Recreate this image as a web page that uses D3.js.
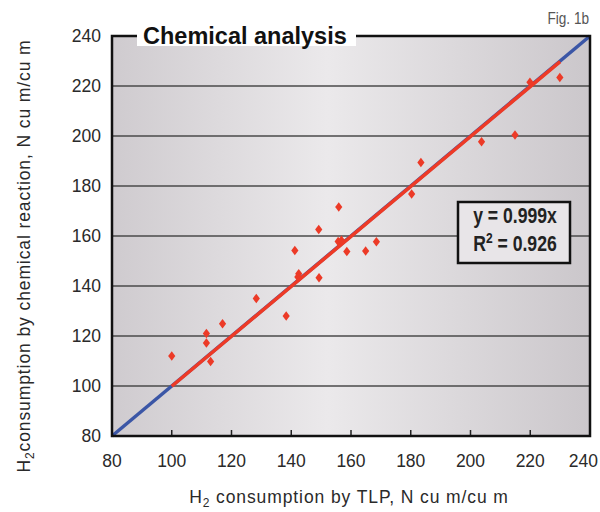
<!DOCTYPE html>
<html>
<head>
<meta charset="utf-8">
<script src="https://cdn.jsdelivr.net/npm/d3@7"></script>
<style>
  body { margin: 0; background: #fff; }
  text { font-family: 'Liberation Sans', Arial, sans-serif; }
</style>
</head>
<body>
<div id="canvas"></div>
<script>
(function () {
  // H2 consumption by TLP (x) vs by chemical reaction (y)
  var tlp = [100, 111.6, 111.6, 113, 117, 128.3, 138.3, 141.2, 142.5, 142.2, 149.2, 149.3,
    155.9, 155.7, 156.8, 158.6, 164.9, 168.5, 180.3, 183.4, 203.7, 214.9, 219.9, 229.9]
  var chem = [112, 121, 117.2, 109.8, 124.9, 135, 128, 154.2, 144.9, 143.6, 162.6, 143.3,
    171.6, 157.8, 158.3, 153.8, 154, 157.7, 176.8, 189.4, 197.7, 200.4, 221.5, 223.4]
  var ticks = [80, 100, 120, 140, 160, 180, 200, 220, 240]
  var slope = 0.999
  var fitRange = [100, 230]
  var parityRange = [80, 240]

  var width = 600,
    height = 512,
    left = 112,
    right = 590,
    top = 36,
    bottom = 436

  var x = d3.scaleLinear().domain([80, 240]).range([left, right])
  var y = d3.scaleLinear().domain([80, 240]).range([bottom, top])

  var svg = d3.select('#canvas').append('svg')
    .attr('width', width)
    .attr('height', height)

  var grad = svg.append('defs').append('linearGradient')
    .attr('id', 'bg')
    .attr('x1', '0%').attr('x2', '100%').attr('y1', '0%').attr('y2', '0%')
  grad.append('stop').attr('offset', '0%').attr('stop-color', '#cfcbcf')
  grad.append('stop').attr('offset', '45%').attr('stop-color', '#ebe9eb')
  grad.append('stop').attr('offset', '100%').attr('stop-color', '#cbc7cb')

  svg.append('rect')
    .attr('x', left).attr('y', top)
    .attr('width', right - left).attr('height', bottom - top)
    .attr('fill', 'url(#bg)')

  // horizontal grid lines
  svg.append('g').selectAll('line')
    .data(ticks.slice(1, -1))
    .enter().append('line')
    .attr('x1', left).attr('x2', right)
    .attr('y1', function (d) { return y(d) })
    .attr('y2', function (d) { return y(d) })
    .attr('stroke', '#4a4a4a')
    .attr('stroke-width', 1.6)

  // bottom ticks, pointing into the plot
  svg.append('g').selectAll('line')
    .data(ticks.slice(1, -1))
    .enter().append('line')
    .attr('x1', function (d) { return x(d) })
    .attr('x2', function (d) { return x(d) })
    .attr('y1', bottom).attr('y2', bottom - 6)
    .attr('stroke', '#222')
    .attr('stroke-width', 1.5)

  // parity line y = x (blue) under the fitted line (red)
  var line = d3.line()
    .x(function (d) { return x(d[0]) })
    .y(function (d) { return y(d[1]) })

  svg.append('path')
    .datum(parityRange.map(function (v) { return [v, v] }))
    .attr('d', line)
    .attr('stroke', '#3b56a6')
    .attr('stroke-width', 3.5)
    .attr('fill', 'none')

  svg.append('path')
    .datum(fitRange.map(function (v) { return [v, v * slope] }))
    .attr('d', line)
    .attr('stroke', '#ee3a26')
    .attr('stroke-width', 3.5)
    .attr('fill', 'none')

  var points = tlp.map(function (v, i) { return {tlp: v, chem: chem[i]} })
  svg.append('g').selectAll('path')
    .data(points)
    .enter().append('path')
    .attr('d', 'M0,-4.8L3.6,0L0,4.8L-3.6,0Z')
    .attr('transform', function (d) { return 'translate(' + x(d.tlp) + ',' + y(d.chem) + ')' })
    .attr('fill', '#ec3a27')

  // frame
  svg.append('rect')
    .attr('x', left).attr('y', top)
    .attr('width', right - left).attr('height', bottom - top)
    .attr('fill', 'none')
    .attr('stroke', '#111')
    .attr('stroke-width', 2.5)

  // title sits on the top border
  svg.append('rect')
    .attr('x', 137).attr('y', 22)
    .attr('width', 219).attr('height', 24)
    .attr('fill', '#fff')
  svg.append('text')
    .attr('x', 143).attr('y', 44)
    .attr('font-size', 23.5)
    .attr('font-weight', 'bold')
    .attr('fill', '#111')
    .text('Chemical analysis')

  svg.append('text')
    .attr('transform', 'translate(589,24) scale(0.85,1)')
    .attr('text-anchor', 'end')
    .attr('font-size', 16)
    .attr('fill', '#555')
    .text('Fig. 1b')

  // tick labels
  svg.append('g').selectAll('text')
    .data(ticks)
    .enter().append('text')
    .attr('x', 101)
    .attr('y', function (d) { return y(d) + 6 })
    .attr('text-anchor', 'end')
    .attr('font-size', 17.5)
    .attr('fill', '#2a2a2a')
    .text(function (d) { return d })

  svg.append('g').selectAll('text')
    .data(ticks)
    .enter().append('text')
    .attr('x', function (d, i) { return i === ticks.length - 1 ? 598 : x(d) })
    .attr('y', 467)
    .attr('text-anchor', function (d, i) { return i === ticks.length - 1 ? 'end' : 'middle' })
    .attr('font-size', 17.5)
    .attr('fill', '#2a2a2a')
    .text(function (d) { return d })

  // axis titles
  var xt = svg.append('text')
    .attr('x', 349).attr('y', 503)
    .attr('text-anchor', 'middle')
    .attr('font-size', 17.5)
    .attr('letter-spacing', 0.9)
    .attr('fill', '#2a2a2a')
  xt.append('tspan').text('H')
  xt.append('tspan').attr('font-size', 12).attr('dy', 4).text('2')
  xt.append('tspan').attr('dy', -4).text(' consumption by TLP, N cu m/cu m')

  var yt = svg.append('text')
    .attr('transform', 'translate(30,256) rotate(-90)')
    .attr('text-anchor', 'middle')
    .attr('font-size', 17.5)
    .attr('letter-spacing', 0.9)
    .attr('fill', '#2a2a2a')
  yt.append('tspan').text('H')
  yt.append('tspan').attr('font-size', 12).attr('dy', 4).text('2')
  yt.append('tspan').attr('dy', -4).text('consumption by chemical reaction, N cu m/cu m')

  // regression box
  svg.append('rect')
    .attr('x', 458).attr('y', 202)
    .attr('width', 112).attr('height', 61)
    .attr('fill', '#e8e5e8')
    .attr('stroke', '#111')
    .attr('stroke-width', 2.5)

  var eq = svg.append('g')
    .attr('font-weight', 'bold')
    .attr('font-size', 22)
    .attr('fill', '#222')
  eq.append('text')
    .attr('transform', 'translate(515,223) scale(0.8,1)')
    .attr('text-anchor', 'middle')
    .text('y = ' + slope + 'x')
  var r2 = eq.append('text')
    .attr('transform', 'translate(515,251) scale(0.8,1)')
    .attr('text-anchor', 'middle')
  r2.append('tspan').text('R')
  r2.append('tspan').attr('font-size', 15).attr('baseline-shift', 'super').text('2')
  r2.append('tspan').text(' = 0.926')
})()
</script>
</body>
</html>
